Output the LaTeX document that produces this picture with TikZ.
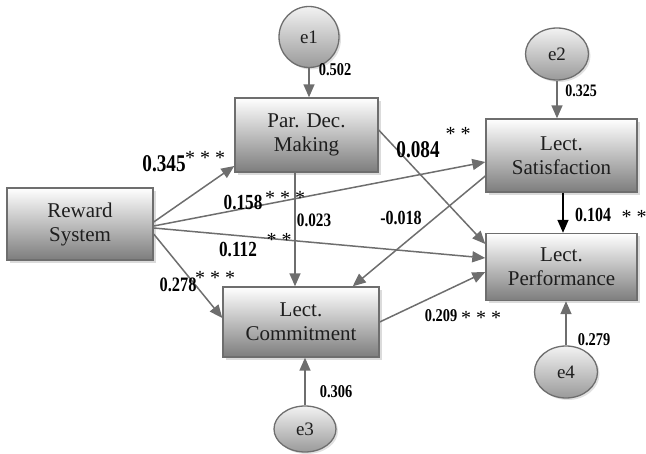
\documentclass[tikz,border=0pt]{standalone}
\usepackage{fontspec}
\setmainfont{Liberation Serif}
\newfontfamily\numfont[FakeStretch=0.8]{Liberation Serif}
\usetikzlibrary{arrows.meta,shadows,shapes.geometric}
\definecolor{edgegray}{HTML}{6E6E6E}
\definecolor{boxbot}{HTML}{7D7D7D}
\definecolor{errtop}{HTML}{F2F2F2}
\definecolor{errbot}{HTML}{9A9A9A}
\definecolor{txt}{HTML}{1E1E1E}
\tikzset{
  box/.style={rectangle, draw=edgegray, line width=1.4pt, top color=white, bottom color=boxbot,
    drop shadow={shadow xshift=3pt, shadow yshift=-3pt, fill=gray!35, opacity=0.8},
    align=center, text=txt, inner sep=0pt, font=\fontsize{21}{24}\selectfont},
  err/.style={ellipse, draw=edgegray, line width=1.3pt, top color=errtop, bottom color=errbot,
    drop shadow={shadow xshift=2pt, shadow yshift=-2pt, fill=gray!30, opacity=0.8},
    inner sep=0pt, text=txt, font=\fontsize{19}{19}\selectfont},
  conn/.style={draw=edgegray, line width=1.5pt, -{Triangle[length=13pt,width=11pt]}},
  blackconn/.style={draw=black, line width=1.5pt, -{Triangle[length=13pt,width=11pt]}},
  num/.style={inner sep=0pt, text=black, font=\numfont\bfseries\fontsize{#1}{#1}\selectfont},
  stars/.style={inner sep=0pt, text=black, font=\fontsize{20}{20}\selectfont},
}
\begin{document}
\begin{tikzpicture}[x=1pt,y=-1pt]
\useasboundingbox (0,0) rectangle (646,454);
% boxes
\node[box, minimum width=146pt, minimum height=72pt] (reward) at (80,224) {Reward\\System};
\node[box, minimum width=143pt, minimum height=74pt] (par) at (306.5,135) {Par. Dec.\\Making};
\node[box, minimum width=151pt, minimum height=73pt] (sat) at (561.5,155.5) {Lect.\\Satisfaction};
\node[box, minimum width=151pt, minimum height=67pt] (perf) at (561.5,267) {Lect.\\Performance};
\node[box, minimum width=156pt, minimum height=70pt] (comm) at (301,322) {Lect.\\Commitment};
% error terms
\node[err, minimum width=60pt, minimum height=61pt] (e1) at (309,37) {e1};
\node[err, minimum width=63pt, minimum height=52pt] (e2) at (557,54) {e2};
\node[err, minimum width=62pt, minimum height=46pt] (e3) at (305,429) {e3};
\node[err, minimum width=63pt, minimum height=52pt] (e4) at (566,372) {e4};
% connectors
\draw[conn] ([yshift=2pt]reward.east) -- ([yshift=-31pt]par.west);
\draw[conn] ([yshift=-2pt]reward.east) -- ([yshift=-6.5pt]sat.west);
\draw[conn] ([yshift=-4pt]reward.east) -- ([yshift=9pt]perf.west);
\draw[conn] ([yshift=-10pt]reward.east) -- ([yshift=4pt]comm.west);
\draw[conn] ([xshift=-11.5pt]par.south) -- ([xshift=-6pt]comm.north);
\draw[conn] ([yshift=5pt]par.east) -- ([yshift=23pt]perf.west);
\draw[conn] ([yshift=-20.5pt]sat.west) -- ([xshift=-27pt]comm.north east);
\draw[blackconn] ([xshift=1.5pt]sat.south) -- ([xshift=1.5pt]perf.north);
\draw[conn] (comm.east) -- ([yshift=-5pt]perf.west);
\draw[conn] (e1.south) -- (e1.south |- par.north);
\draw[conn] (e2.south) -- (e2.south |- sat.north);
\draw[conn] (e3.north) -- (e3.north |- comm.south);
\draw[conn] (e4.north) -- (e4.north |- perf.south);
% labels
\node[num=24] (l345) at (164,164) {0.345};
\node[stars] (a345) at (205,158) {* * *};
\node[num=18] (l502) at (335,70) {0.502};
\node[num=24] (l084) at (418,150) {0.084};
\node[stars] (a084) at (458,134) {* *};
\node[num=17.5] (l325) at (581,91) {0.325};
\node[num=21.5] (l158) at (243,203) {0.158};
\node[stars] (a158) at (285,198) {* * *};
\node[num=19] (l023) at (314,220) {0.023};
\node[num=20] (l018) at (401,218) {-0.018};
\node[num=21.5] (l112) at (238,250) {0.112};
\node[stars] (a112) at (279,240) {* *};
\node[num=20.5] (l278) at (178,285) {0.278};
\node[stars] (a278) at (215,278) {* * *};
\node[num=20] (l104) at (593,215) {0.104};
\node[stars] (a104) at (634,217) {* *};
\node[num=18] (l209) at (441,316) {0.209};
\node[stars] (a209) at (481,318) {* * *};
\node[num=18] (l279) at (594,340) {0.279};
\node[num=18] (l306) at (336,392) {0.306};
\end{tikzpicture}
\end{document}
